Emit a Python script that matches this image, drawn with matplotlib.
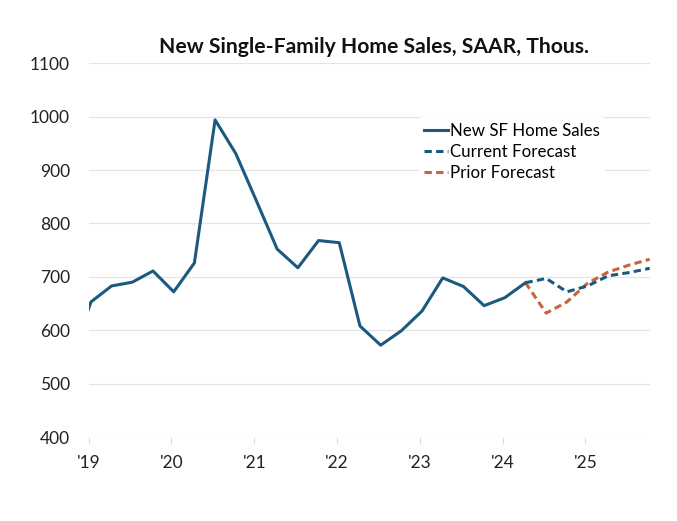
"""
New single-family home sales, quarterly, with current and prior forecast.
"""

import numpy as np
from matplotlib import pyplot as plt

# quarterly values, SAAR thousands (first point is 2018 Q4, clipped by the axis)
start_year = 2018.75
actual = [540, 653, 683, 690, 711, 672, 726, 994, 931, 842, 752, 717, 768,
          764, 608, 572, 599, 636, 698, 682, 646, 661, 689]
# forecasts start at 2024 Q2 (last actual) and run to 2025 Q4
current_fc = [689, 697, 672, 683, 702, 708, 716]
prior_fc = [689, 632, 653, 688, 709, 722, 733]

year_ticks = [2019, 2020, 2021, 2022, 2023, 2024, 2025]
year_labels = ["'19", "'20", "'21", "'22", "'23", "'24", "'25"]

blue = "#1b5a7e"
orange = "#c6653a"

plt.rcParams['font.family'] = ['Lato', 'DejaVu Sans']

def qx(n, first=0):
    # quarter index -> fractional year, points sit just after the quarter start
    return start_year + 0.25 * (np.arange(n) + first) + 0.027

fig = plt.figure(figsize=(6.77, 5.21), dpi=100)
ax = fig.add_axes([0.131, 0.1612, 0.829, 0.7173])

x_act = qx(len(actual))
fc_first = len(actual) - 1
x_fc = qx(len(current_fc), fc_first)

dash = (0, (2.4, 1.4))
ax.plot(x_fc, prior_fc, color=orange, lw=2.2, ls=dash, label="Prior Forecast", zorder=3)
ax.plot(x_fc, current_fc, color=blue, lw=2.2, ls=dash, label="Current Forecast", zorder=4)
ax.plot(x_act, actual, color=blue, lw=2.2, label="New SF Home Sales", zorder=5)

ax.set_xlim(2019.0, 2025.78)
ax.set_ylim(400, 1100)
ax.set_yticks(range(400, 1101, 100))
ax.set_xticks(year_ticks)
ax.set_xticklabels(year_labels)

ax.grid(axis='y', color='#e4e4e4', lw=0.9)
ax.set_axisbelow(True)
for s in ax.spines.values():
    s.set_visible(False)
ax.tick_params(axis='y', length=0, pad=13.5, labelsize=12.5, labelcolor='#222222')
ax.tick_params(axis='x', length=5, color='#dddddd', pad=8, labelsize=12.5, labelcolor='#222222')

handles, labels = ax.get_legend_handles_labels()
order = [2, 1, 0]
leg = ax.legend([handles[i] for i in order], [labels[i] for i in order],
                loc='upper left', bbox_to_anchor=(0.588, 0.855), frameon=True,
                fontsize=12.2, handlelength=1.45, handletextpad=0.1,
                labelspacing=0.3, borderpad=0.3, borderaxespad=0)
leg.get_frame().set_facecolor('white')
leg.get_frame().set_edgecolor('none')
leg.get_frame().set_alpha(1)

fig.text(0.552, 0.910, "New Single-Family Home Sales, SAAR, Thous.",
         ha='center', va='center', fontsize=15.2, fontweight='bold', color='#111111')

plt.savefig("out.png", dpi=100)
